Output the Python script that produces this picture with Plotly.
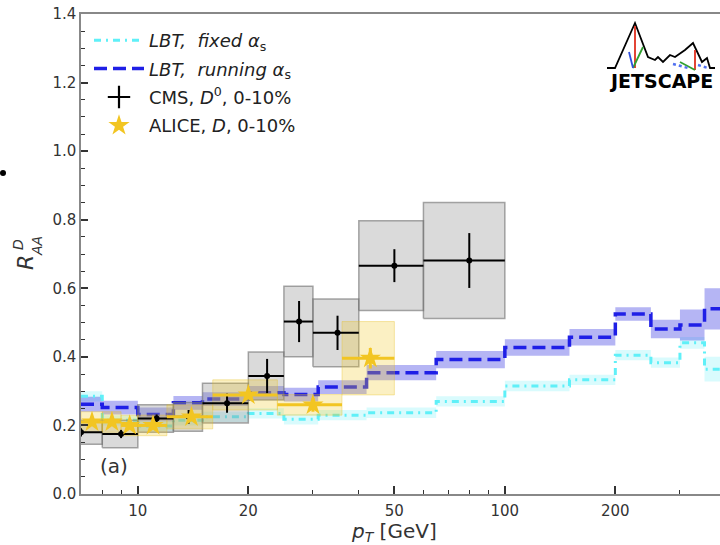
import plotly.graph_objects as go
import numpy as np

# ---------------- data ----------------
theory_edges = [7, 8, 10, 12.5, 15, 20, 25, 31, 42, 65, 100, 150, 200, 250, 300, 350, 400]
lbt_running = [0.262, 0.252, 0.232, 0.266, 0.277, 0.295, 0.290, 0.312, 0.354, 0.392,
               0.427, 0.457, 0.525, 0.481, 0.493, 0.540]
lbt_running_err = [0.022, 0.020, 0.020, 0.020, 0.020, 0.020, 0.020, 0.020, 0.022, 0.025,
                   0.024, 0.024, 0.020, 0.027, 0.045, 0.060]
lbt_fixed = [0.285, 0.215, 0.198, 0.215, 0.225, 0.235, 0.218, 0.230, 0.237, 0.270,
             0.315, 0.333, 0.405, 0.383, 0.441, 0.364]
lbt_fixed_err = [0.015, 0.015, 0.015, 0.015, 0.015, 0.015, 0.015, 0.015, 0.015, 0.015,
                 0.015, 0.015, 0.015, 0.015, 0.017, 0.036]

cms_lo = [6, 8, 10, 12.5, 15, 20, 25, 30, 40, 60]
cms_hi = [8, 10, 12.5, 15, 20, 25, 30, 40, 60, 100]
cms_val = [0.180, 0.175, 0.220, 0.225, 0.265, 0.344, 0.503, 0.470, 0.666, 0.681]
cms_stat = [0.012, 0.012, 0.012, 0.020, 0.028, 0.050, 0.060, 0.050, 0.048, 0.080]
cms_syst = [0.035, 0.040, 0.040, 0.042, 0.058, 0.070, 0.103, 0.099, 0.131, 0.169]

alice_lo = [7, 8, 9, 10, 12, 16, 24, 36]
alice_hi = [8, 9, 10, 12, 16, 24, 36, 50]
alice_val = [0.210, 0.210, 0.200, 0.200, 0.225, 0.289, 0.260, 0.396]
alice_stat = [0.010, 0.010, 0.010, 0.010, 0.010, 0.012, 0.020, 0.030]
alice_syst = [0.030, 0.030, 0.030, 0.030, 0.035, 0.044, 0.030, 0.107]

x_ticks = [10, 20, 50, 100, 200]
x_minor = [7, 8, 9, 30, 40, 60, 70, 80, 90, 300]

# ---------------- styling ----------------
W, H = 720, 545
L, R, T, B = 81, 0, 14, 51
FONT = "DejaVu Sans"
BLUE = "#1f1fe6"
BLUE_BAND = "rgba(60,60,225,0.38)"
CYAN = "#5ff0f8"
CYAN_BAND = "rgba(80,235,245,0.22)"
GOLD = "#f2c522"
GOLD_BAND = "rgba(240,200,40,0.28)"
GOLD_EDGE = "rgba(230,190,30,0.35)"
GREY_BAND = "rgba(150,150,150,0.35)"
GREY_EDGE = "rgba(110,110,110,0.6)"

fig = go.Figure()


def step(vals):
    return list(vals) + [vals[-1]]


def add_band(vals, errs, color):
    lo = [v - e for v, e in zip(vals, errs)]
    hi = [v + e for v, e in zip(vals, errs)]
    fig.add_trace(go.Scatter(x=theory_edges, y=step(lo), mode="lines", line=dict(width=0, shape="hv"),
                             showlegend=False, hoverinfo="skip"))
    fig.add_trace(go.Scatter(x=theory_edges, y=step(hi), mode="lines", line=dict(width=0, shape="hv"),
                             fill="tonexty", fillcolor=color, showlegend=False, hoverinfo="skip"))


# theory bands and lines
add_band(lbt_fixed, lbt_fixed_err, CYAN_BAND)
add_band(lbt_running, lbt_running_err, BLUE_BAND)
fig.add_trace(go.Scatter(x=theory_edges, y=step(lbt_fixed), mode="lines",
                         line=dict(color=CYAN, width=3, shape="hv", dash="7px,5px,2px,5px"),
                         name="<i>LBT,  fixed</i> <i>α</i><sub>s</sub>", legendgroup="a"))
fig.add_trace(go.Scatter(x=theory_edges, y=step(lbt_running), mode="lines",
                         line=dict(color=BLUE, width=3.5, shape="hv", dash="13px,6px"),
                         name="<i>LBT,  running</i> <i>α</i><sub>s</sub>", legendgroup="b"))

# CMS systematic boxes
for lo, hi, v, s in zip(cms_lo, cms_hi, cms_val, cms_syst):
    fig.add_trace(go.Scatter(x=[lo, hi, hi, lo, lo], y=[v - s, v - s, v + s, v + s, v - s],
                             mode="lines", fill="toself", fillcolor=GREY_BAND,
                             line=dict(color=GREY_EDGE, width=1.5), showlegend=False, hoverinfo="skip"))
# ALICE systematic boxes
for lo, hi, v, s in zip(alice_lo, alice_hi, alice_val, alice_syst):
    fig.add_trace(go.Scatter(x=[lo, hi, hi, lo, lo], y=[v - s, v - s, v + s, v + s, v - s],
                             mode="lines", fill="toself", fillcolor=GOLD_BAND,
                             line=dict(color=GOLD_EDGE, width=1), showlegend=False, hoverinfo="skip"))

# CMS points
cms_x = [(a + b) / 2 for a, b in zip(cms_lo, cms_hi)]
fig.add_trace(go.Scatter(
    x=cms_x, y=cms_val, mode="markers",
    marker=dict(color="black", size=6),
    error_x=dict(type="data", array=[b - c for b, c in zip(cms_hi, cms_x)],
                 arrayminus=[c - a for a, c in zip(cms_lo, cms_x)], color="black", thickness=2, width=0),
    error_y=dict(type="data", array=cms_stat, color="black", thickness=2, width=0),
    showlegend=False))

# ALICE points
alice_x = [(a + b) / 2 for a, b in zip(alice_lo, alice_hi)]
fig.add_trace(go.Scatter(
    x=alice_x, y=alice_val, mode="markers",
    marker=dict(color=GOLD, size=16, symbol="star", line=dict(width=0)),
    error_x=dict(type="data", array=[b - c for b, c in zip(alice_hi, alice_x)],
                 arrayminus=[c - a for a, c in zip(alice_lo, alice_x)], color=GOLD, thickness=3, width=0),
    error_y=dict(type="data", array=alice_stat, color=GOLD, thickness=3, width=0),
    showlegend=False))

# legend-only entries for the data
fig.add_trace(go.Scatter(x=[None], y=[None], mode="markers",
                         marker=dict(symbol="cross-thin", size=20, line=dict(color="black", width=2.2)),
                         name="CMS, <i>D</i><sup>0</sup>, 0-10%", legendgroup="c"))
fig.add_trace(go.Scatter(x=[None], y=[None], mode="markers",
                         marker=dict(symbol="star", size=20, color=GOLD),
                         name="ALICE, <i>D</i>, 0-10%", legendgroup="d"))

# ---------------- layout ----------------
pw, ph = W - L - R, H - T - B


def px(xp):
    return (xp - L) / pw


def py(yp):
    return (H - B - yp) / ph


xr0 = np.log10(7.0)
xr1 = xr0 + pw / 367.0

fig.update_layout(
    width=W, height=H,
    margin=dict(l=L, r=R, t=T, b=B, pad=0),
    paper_bgcolor="white", plot_bgcolor="white",
    font=dict(family=FONT, size=15, color="#333333"),
    showlegend=True,
    legend=dict(x=px(89), y=py(22), xanchor="left", yanchor="top", bgcolor="rgba(0,0,0,0)",
                font=dict(family=FONT, size=18, color="#222222"), traceorder="grouped",
                tracegroupgap=2, itemwidth=50),
    xaxis=dict(type="log", range=[xr0, xr1], tickvals=x_ticks, ticktext=[str(v) for v in x_ticks],
               ticks="inside", ticklen=8, tickwidth=1.5, tickcolor="#333333",
               showline=True, linecolor="#888888", linewidth=1.5, mirror=True,
               showgrid=False, zeroline=False, ticklabelstandoff=2,
               minor=dict(tickvals=x_minor, ticks="inside", ticklen=4, tickwidth=1, tickcolor="#333333"),
               tickfont=dict(size=15, color="#333333")),
    yaxis=dict(range=[0, 1.4], dtick=0.2, tickformat=".1f",
               ticks="inside", ticklen=7, tickwidth=1.5, tickcolor="#333333",
               showline=True, linecolor="#888888", linewidth=1.5,
               showgrid=False, zeroline=False,
               minor=dict(dtick=0.05, ticks="inside", ticklen=4, tickwidth=1, tickcolor="#333333"),
               tickfont=dict(size=15, color="#333333")),
)

ann = []
# x axis title
ann.append(dict(x=px(394), y=py(532), xref="paper", yref="paper", showarrow=False,
                text="<i>p</i><sub><i>T</i></sub> [GeV]", font=dict(size=20, color="#333333"),
                xanchor="center", yanchor="middle"))
# y axis title R^D_AA
ann.append(dict(x=px(25), y=py(263), xref="paper", yref="paper", showarrow=False, textangle=-90,
                text="<i>R</i>", font=dict(size=22, color="#333333"), xanchor="center", yanchor="middle"))
ann.append(dict(x=px(18), y=py(245), xref="paper", yref="paper", showarrow=False, textangle=-90,
                text="<i>D</i>", font=dict(size=14, color="#333333"), xanchor="center", yanchor="middle"))
ann.append(dict(x=px(37), y=py(246), xref="paper", yref="paper", showarrow=False, textangle=-90,
                text="<i>AA</i>", font=dict(size=14, color="#333333"), xanchor="center", yanchor="middle"))
# panel label
ann.append(dict(x=px(114), y=py(466), xref="paper", yref="paper", showarrow=False,
                text="(a)", font=dict(size=20, color="#333333"), xanchor="center", yanchor="middle"))
# JETSCAPE logo text
ann.append(dict(x=px(661), y=py(81), xref="paper", yref="paper", showarrow=False,
                text="<b>JETSCAPE</b>", font=dict(size=19, color="black", family="DejaVu Sans"),
                xanchor="center", yanchor="middle"))
fig.update_layout(annotations=ann)

shapes = []


def path(points):
    d = "M " + " L ".join(f"{px(a):.5f},{py(b):.5f}" for a, b in points)
    return d


logo_line = [(607, 68), (615, 68), (635, 23), (648, 57), (655, 60), (658, 57), (663, 62), (670, 55),
             (675, 57), (685, 50), (693, 43), (702, 62), (707, 58), (710, 68), (715, 68)]
shapes.append(dict(type="path", xref="paper", yref="paper", path=path(logo_line),
                   line=dict(color="black", width=1.8)))
shapes.append(dict(type="line", xref="paper", yref="paper", x0=px(635), y0=py(26), x1=px(635), y1=py(68),
                   line=dict(color="#e03020", width=1.8)))
shapes.append(dict(type="line", xref="paper", yref="paper", x0=px(633), y0=py(68), x1=px(643), y1=py(47),
                   line=dict(color="#30a030", width=1.8)))
shapes.append(dict(type="line", xref="paper", yref="paper", x0=px(633), y0=py(68), x1=px(629), y1=py(52),
                   line=dict(color="#3050e0", width=1.8)))
shapes.append(dict(type="line", xref="paper", yref="paper", x0=px(695), y0=py(50), x1=px(695), y1=py(70),
                   line=dict(color="#e03020", width=1.8)))
shapes.append(dict(type="line", xref="paper", yref="paper", x0=px(680), y0=py(62), x1=px(695), y1=py(70),
                   line=dict(color="#30a030", width=1.8)))
shapes.append(dict(type="line", xref="paper", yref="paper", x0=px(673), y0=py(64), x1=px(688), y1=py(68),
                   line=dict(color="#5070f0", width=2.5, dash="dot")))
shapes.append(dict(type="line", xref="paper", yref="paper", x0=px(698), y0=py(65), x1=px(708), y1=py(68),
                   line=dict(color="#5070f0", width=2.5, dash="dot")))
# stray dot at left margin
shapes.append(dict(type="circle", xref="paper", yref="paper", x0=px(0), y0=py(176), x1=px(6), y1=py(170),
                   fillcolor="black", line=dict(width=0)))
fig.update_layout(shapes=shapes)

fig.write_html("out.html")
